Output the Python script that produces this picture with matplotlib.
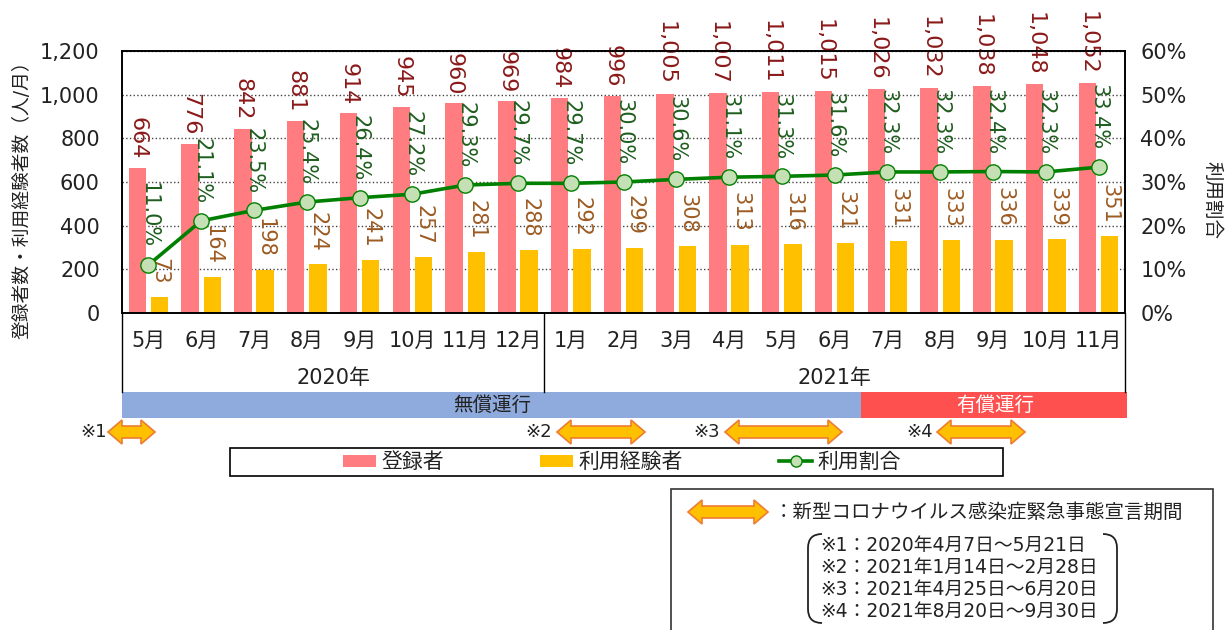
import matplotlib
matplotlib.use('Agg')
import matplotlib.pyplot as plt
import matplotlib.patches as mpatches
import matplotlib.transforms as mtransforms
from matplotlib.lines import Line2D
from matplotlib.path import Path

# 数字は幅の広い DejaVu、和文は Noto Sans CJK JP
plt.rcParams['font.family'] = ['DejaVu Sans', 'Noto Sans CJK JP']

# ====================== データ ======================
months = ['5月', '6月', '7月', '8月', '9月', '10月', '11月', '12月',
          '1月', '2月', '3月', '4月', '5月', '6月', '7月', '8月', '9月', '10月', '11月']
registered = [664, 776, 842, 881, 914, 945, 960, 969, 984, 996,
              1005, 1007, 1011, 1015, 1026, 1032, 1038, 1048, 1052]
experienced = [73, 164, 198, 224, 241, 257, 281, 288, 292, 299,
               308, 313, 316, 321, 331, 333, 336, 339, 351]
ratio = [11.0, 21.1, 23.5, 25.4, 26.4, 27.2, 29.3, 29.7, 29.7, 30.0,
         30.6, 31.1, 31.3, 31.6, 32.3, 32.3, 32.4, 32.3, 33.4]
years = ['2020年', '2021年']
year_counts = [8, 11]
periods = ['※1：2020年4月7日～5月21日',
           '※2：2021年1月14日～2月28日',
           '※3：2021年4月25日～6月20日',
           '※4：2021年8月20日～9月30日']

# ====================== 色 ======================
C_REG = '#FF7C80'
C_EXP = '#FFC000'
C_LINE = '#008000'
C_MARK = '#C5E0B4'
C_REG_TXT = '#8B1A1A'
C_EXP_TXT = '#9C5B22'
C_PCT_TXT = '#1E5E1E'
C_TXT = '#222222'

W, H = 1226, 630


def fx(px):
    return px / W


def fy(py):
    return 1 - py / H


fig = plt.figure(figsize=(W / 100, H / 100), dpi=100)
ax = fig.add_axes([fx(122), fy(313), fx(1125) - fx(122), fy(51) - fy(313)])
ax2 = ax.twinx()

n = len(months)
x = list(range(n))
bw = 0.33
ax.bar([i - 0.21 for i in x], registered, width=bw, color=C_REG, zorder=2)
ax.bar([i + 0.21 for i in x], experienced, width=bw, color=C_EXP, zorder=2)
ax.set_xlim(-0.5, n - 0.5)
ax.set_ylim(0, 1200)
ax.set_yticks(range(0, 1201, 200))
ax.set_yticklabels([f'{v:,}' for v in range(0, 1201, 200)])
ax.set_xticks([])
ax.yaxis.grid(True, linestyle=':', color='#444444', linewidth=1.0)
ax.set_axisbelow(True)
ax.tick_params(axis='y', length=0, pad=16, labelsize=15, labelcolor=C_TXT)

for i in x:
    ax.annotate(f'{registered[i]:,}', (i - 0.21, registered[i]), xytext=(0, 6),
                textcoords='offset points', rotation=270, ha='center', va='bottom',
                fontsize=16, color=C_REG_TXT, annotation_clip=False)
    ax.annotate(f'{experienced[i]}', (i + 0.21, experienced[i]), xytext=(0, 9),
                textcoords='offset points', rotation=270, ha='center', va='bottom',
                fontsize=15, color=C_EXP_TXT, annotation_clip=False)

ax2.plot(x, ratio, color=C_LINE, linewidth=2.6, marker='o', markersize=11,
         markerfacecolor=C_MARK, markeredgecolor=C_LINE, markeredgewidth=1.0, zorder=3)
for i in x:
    ax2.annotate(f'{ratio[i]:.1f}%', (i, ratio[i]), xytext=(0, 12),
                 textcoords='offset points', rotation=270, ha='center', va='bottom',
                 fontsize=15, color=C_PCT_TXT, annotation_clip=False)
ax2.set_ylim(0, 60)
ax2.set_yticks(range(0, 61, 10))
ax2.set_yticklabels([f'{v}%' for v in range(0, 61, 10)])
ax2.tick_params(axis='y', length=0, pad=11, labelsize=15, labelcolor=C_TXT)

for a in (ax, ax2):
    for s in a.spines.values():
        s.set_color('black')
        s.set_linewidth(1.2)

fig.text(fx(22), fy(195), '登録者数・利用経験者数（人/月）', rotation=90,
         ha='center', va='center', fontsize=13.5, color=C_TXT)
fig.text(fx(1212), fy(200), '利用割合', rotation=270,
         ha='center', va='center', fontsize=14, color=C_TXT)

# ====================== 軸下の表 ======================
blend = mtransforms.blended_transform_factory(ax.transData, fig.transFigure)
for i, m in enumerate(months):
    fig.text(i, fy(341), m, transform=blend, ha='center', va='center',
             fontsize=15, color=C_TXT)
start = -0.5
for yl, cnt in zip(years, year_counts):
    fig.text(start + cnt / 2, fy(378), yl, transform=blend, ha='center',
             va='center', fontsize=15, color=C_TXT)
    fig.add_artist(Line2D([start, start], [fy(313), fy(392)], transform=blend,
                          color='black', linewidth=1.0))
    start += cnt
fig.add_artist(Line2D([start, start], [fy(313), fy(392)], transform=blend,
                      color='black', linewidth=1.0))

fig.add_artist(mpatches.Rectangle((-0.5, fy(418)), 14, fy(392) - fy(418),
                                  transform=blend, facecolor='#8FAADC', edgecolor='none'))
fig.add_artist(mpatches.Rectangle((13.5, fy(418)), 5.04, fy(392) - fy(418),
                                  transform=blend, facecolor='#FF5050', edgecolor='none'))
fig.text(fx(492), fy(405), '無償運行', ha='center', va='center', fontsize=14, color=C_TXT)
fig.text(fx(995), fy(405), '有償運行', ha='center', va='center', fontsize=14, color='white')


def double_arrow(x0, x1, yc, h1=6, h2=12, L=14):
    pts = [(x0, yc), (x0 + L, yc - h2), (x0 + L, yc - h1), (x1 - L, yc - h1),
           (x1 - L, yc - h2), (x1, yc), (x1 - L, yc + h2), (x1 - L, yc + h1),
           (x0 + L, yc + h1), (x0 + L, yc + h2)]
    fig.add_artist(mpatches.Polygon([(fx(a), fy(b)) for a, b in pts], closed=True,
                                    transform=fig.transFigure, facecolor=C_EXP,
                                    edgecolor='#ED7D31', linewidth=1.2))


arrows = [(108, 155, '※1', 93), (557, 645, '※2', 539), (725, 842, '※3', 707), (937, 1025, '※4', 920)]
for a0, a1, lab, lx in arrows:
    double_arrow(a0, a1, 432)
    fig.text(fx(lx), fy(432), lab, ha='center', va='center', fontsize=13, color=C_TXT)

# ====================== 凡例 ======================
fig.add_artist(mpatches.Rectangle((fx(230), fy(476)), fx(1003) - fx(230), fy(448) - fy(476),
                                  transform=fig.transFigure, facecolor='white',
                                  edgecolor='black', linewidth=1.2))
handles = [mpatches.Patch(facecolor=C_REG, edgecolor='none'),
           mpatches.Patch(facecolor=C_EXP, edgecolor='none'),
           Line2D([], [], color=C_LINE, linewidth=2.6, marker='o', markersize=8,
                  markerfacecolor=C_MARK, markeredgecolor=C_LINE)]
leg = fig.legend(handles, ['登録者', '利用経験者', '利用割合'], ncol=3, loc='center',
                 bbox_to_anchor=(fx(622), fy(462)), fontsize=15, frameon=False,
                 handlelength=1.6, handleheight=0.5, handletextpad=0.25,
                 columnspacing=4.6, borderpad=0)
for t in leg.get_texts():
    t.set_color(C_TXT)

# ====================== 注記ボックス ======================
fig.add_artist(mpatches.Rectangle((fx(671), fy(632)), fx(1213) - fx(671), fy(489) - fy(632),
                                  transform=fig.transFigure, facecolor='white',
                                  edgecolor='#333333', linewidth=1.2))
double_arrow(688, 768, 512)
fig.text(fx(774), fy(512), '：新型コロナウイルス感染症緊急事態宣言期間', ha='left', va='center',
         fontsize=14, color=C_TXT)
for k, s in enumerate(periods):
    fig.text(fx(820), fy(545 + 22 * k), s, ha='left', va='center', fontsize=13.5, color=C_TXT)


def bracket(xe, top, bot, d):
    verts = [(xe + d, top), (xe, top), (xe, top + abs(d)), (xe, bot - abs(d)),
             (xe, bot), (xe + d, bot)]
    codes = [Path.MOVETO, Path.CURVE3, Path.CURVE3, Path.LINETO, Path.CURVE3, Path.CURVE3]
    p = Path([(fx(a), fy(b)) for a, b in verts], codes)
    fig.add_artist(mpatches.PathPatch(p, transform=fig.transFigure, facecolor='none',
                                      edgecolor=C_TXT, linewidth=1.3))


bracket(808, 534, 623, 14)
bracket(1117, 534, 623, -14)

fig.savefig('out.png', dpi=100)
